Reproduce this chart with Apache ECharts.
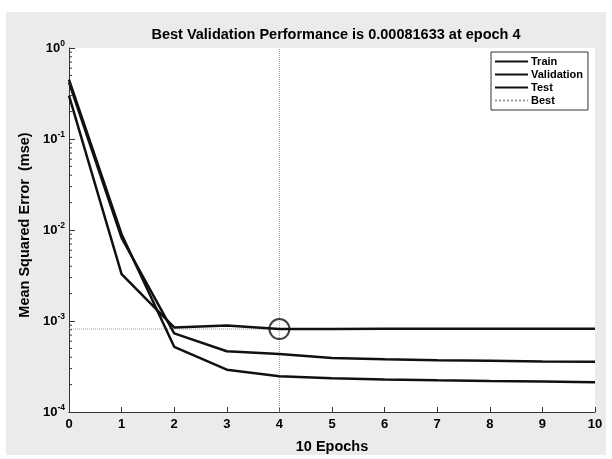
<!DOCTYPE html>
<html><head><meta charset="utf-8">
<script src="https://cdn.jsdelivr.net/npm/echarts@6/dist/echarts.min.js"></script>
<style>html,body{margin:0;padding:0;background:#fff}#c{width:612px;height:459px}</style>
</head><body><div id="c"></div>
<script>
const epochs = [0,1,2,3,4,5,6,7,8,9,10];
const train = [0.45, 0.0090, 5.2e-4, 2.92e-4, 2.47e-4, 2.35e-4, 2.28e-4, 2.23e-4, 2.19e-4, 2.16e-4, 2.12e-4];
const validation = [0.30, 3.27e-3, 8.5e-4, 8.9e-4, 8.1633e-4, 8.18e-4, 8.2e-4, 8.2e-4, 8.21e-4, 8.21e-4, 8.22e-4];
const test = [0.42, 0.0082, 7.3e-4, 4.65e-4, 4.34e-4, 3.93e-4, 3.8e-4, 3.7e-4, 3.65e-4, 3.6e-4, 3.57e-4];
const bestEpoch = 4;
const bestValue = 0.00081633;
const yMin = 1e-4, yMax = 1;
const minorTickValues = [];
[-4,-3,-2,-1].forEach(k => { [2,3,4,5,6,7,8,9].forEach(m => minorTickValues.push(m * Math.pow(10, k))); });

const FONT = '"Liberation Sans", Arial, sans-serif';
const pair = (xs, ys) => xs.map((x, i) => [x, ys[i]]);
const lineColor = '#111';

const chart = echarts.init(document.getElementById('c'), null, {renderer: 'canvas'});
chart.setOption({
  backgroundColor: '#fff',
  animation: false,
  graphic: [{type: 'rect', z: -10, shape: {x: 6, y: 12, width: 600, height: 443}, style: {fill: '#ebebeb'}}],
  title: {
    text: 'Best Validation Performance is 0.00081633 at epoch 4',
    left: 331, top: 22, textAlign: 'center',
    textStyle: {fontFamily: FONT, fontSize: 14.5, fontWeight: 'bold', color: '#000'}
  },
  legend: {
    data: ['Train', 'Validation', 'Test', 'Best'],
    orient: 'vertical', left: 491, top: 52,
    itemWidth: 33, itemHeight: 12, itemGap: 2,
    padding: [4, 5, 4, 3],
    backgroundColor: '#fff', borderColor: '#333', borderWidth: 1,
    itemStyle: {opacity: 0},
    textStyle: {fontFamily: FONT, fontSize: 11, fontWeight: 'bold', color: '#000', padding: [0, 0, 0, -2]}
  },
  grid: {left: 69, right: 17, top: 48, bottom: 46, show: true, backgroundColor: '#fff', borderWidth: 0},
  xAxis: {
    type: 'value', min: 0, max: 10, interval: 1,
    name: '10 Epochs', nameLocation: 'middle', nameGap: 27,
    nameTextStyle: {fontFamily: FONT, fontSize: 14.5, fontWeight: 'bold', color: '#000'},
    axisLine: {lineStyle: {color: '#333', width: 1}},
    axisTick: {inside: true, length: 5, lineStyle: {color: '#333'}},
    axisLabel: {fontFamily: FONT, fontSize: 13, fontWeight: 'bold', color: '#000', margin: 6},
    splitLine: {show: false}
  },
  yAxis: {
    type: 'log', logBase: 10, min: yMin, max: yMax,
    name: 'Mean Squared Error  (mse)', nameLocation: 'middle', nameGap: 27,
    nameTextStyle: {fontFamily: FONT, fontSize: 14.5, fontWeight: 'bold', color: '#000', padding: [0, 0, 0, 10]},
    axisLine: {lineStyle: {color: '#333', width: 1}},
    axisTick: {inside: true, length: 6, lineStyle: {color: '#333'}},
    axisLabel: {
      margin: 4, color: '#000',
      formatter: v => '{b|10}{s|' + Math.round(Math.log10(v)) + '}',
      rich: {
        b: {fontFamily: FONT, fontSize: 13, fontWeight: 'bold', color: '#000'},
        s: {fontFamily: FONT, fontSize: 8.5, fontWeight: 'bold', color: '#000', padding: [0, 0, 9, 0]}
      }
    },
    splitLine: {show: false}
  },
  series: [
    {name: 'Best', type: 'line', data: [[0, bestValue], [bestEpoch, bestValue]], symbol: 'none',
     lineStyle: {color: '#999', width: 1, type: 'dotted'}, itemStyle: {color: '#999'}, z: 1},
    {name: 'Best', type: 'line', data: [[bestEpoch, yMin], [bestEpoch, yMax]], symbol: 'none',
     lineStyle: {color: '#999', width: 1, type: 'dotted'}, itemStyle: {color: '#999'}, z: 1},
    {name: 'Train', type: 'line', data: pair(epochs, train), symbol: 'none',
     lineStyle: {color: lineColor, width: 2.5}, itemStyle: {color: lineColor}, z: 3},
    {name: 'Validation', type: 'line', data: pair(epochs, validation), symbol: 'none',
     lineStyle: {color: lineColor, width: 2.5}, itemStyle: {color: lineColor}, z: 3},
    {name: 'Test', type: 'line', data: pair(epochs, test), symbol: 'none',
     lineStyle: {color: lineColor, width: 2.5}, itemStyle: {color: lineColor}, z: 3},
    {name: 'bestMarker', type: 'scatter', data: [[bestEpoch, bestValue]], symbol: 'circle', symbolSize: 20,
     itemStyle: {color: 'rgba(0,0,0,0)', borderColor: '#111', borderWidth: 2}, z: 4, silent: true},
    {name: 'minorTicks', type: 'custom', silent: true, z: 5,
     data: minorTickValues.map(v => [0, v]),
     renderItem: (params, api) => {
       const p = api.coord([0, api.value(1)]);
       return {type: 'line', shape: {x1: p[0], y1: p[1], x2: p[0] + 3, y2: p[1]},
               style: {stroke: '#333', lineWidth: 1}};
     }}
  ]
});
</script></body></html>
